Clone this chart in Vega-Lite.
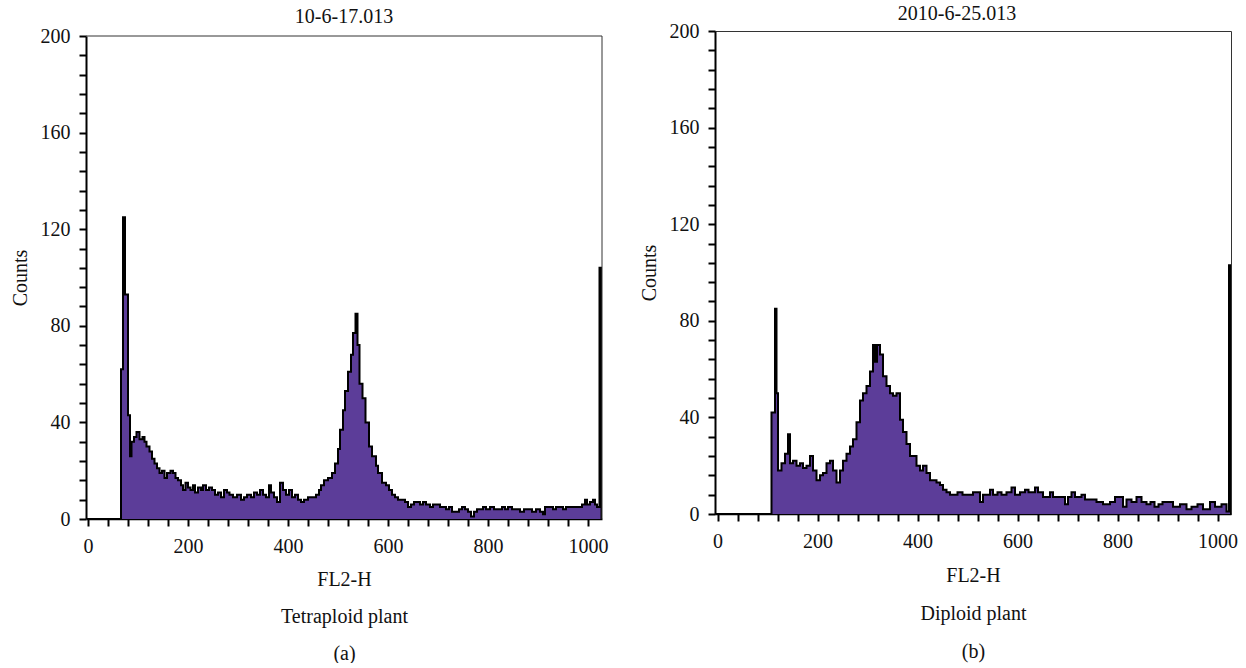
{
  "$schema": "https://vega.github.io/schema/vega-lite/v6.json",
  "background": "white",
  "padding": {"left": 10, "top": 3, "right": 5, "bottom": 0},
  "spacing": 30,
  "config": {
    "font": "Liberation Serif",
    "view": {"stroke": "#333333", "strokeWidth": 1},
    "title": {"font": "Liberation Serif", "fontSize": 20, "fontWeight": "normal", "color": "#111111", "anchor": "middle"},
    "axis": {
      "labelFont": "Liberation Serif", "titleFont": "Liberation Serif",
      "labelFontSize": 20, "titleFontSize": 20, "titleFontWeight": "normal",
      "labelColor": "#111111", "titleColor": "#111111",
      "tickColor": "black", "tickWidth": 2, "tickSize": 7,
      "domainColor": "black", "grid": false, "labelOverlap": false, "labelFlush": false
    }
  },
  "datasets": {
    "tetra": [
      {"fl2h": -4, "counts": 0}, {"fl2h": 66, "counts": 62}, {"fl2h": 70, "counts": 125}, {"fl2h": 74, "counts": 93}, {"fl2h": 80, "counts": 43}, {"fl2h": 84, "counts": 26}, {"fl2h": 87, "counts": 32}, {"fl2h": 92, "counts": 34}, {"fl2h": 97, "counts": 36}, {"fl2h": 103, "counts": 33}, {"fl2h": 109, "counts": 34}, {"fl2h": 113, "counts": 32}, {"fl2h": 117, "counts": 30}, {"fl2h": 123, "counts": 28}, {"fl2h": 128, "counts": 25}, {"fl2h": 133, "counts": 23}, {"fl2h": 138, "counts": 21}, {"fl2h": 143, "counts": 19}, {"fl2h": 148, "counts": 20}, {"fl2h": 153, "counts": 17}, {"fl2h": 158, "counts": 19}, {"fl2h": 165, "counts": 20}, {"fl2h": 170, "counts": 19}, {"fl2h": 175, "counts": 17}, {"fl2h": 180, "counts": 16}, {"fl2h": 186, "counts": 14}, {"fl2h": 190, "counts": 12}, {"fl2h": 195, "counts": 15}, {"fl2h": 200, "counts": 13}, {"fl2h": 205, "counts": 12}, {"fl2h": 210, "counts": 14}, {"fl2h": 214, "counts": 11}, {"fl2h": 220, "counts": 13}, {"fl2h": 226, "counts": 12}, {"fl2h": 230, "counts": 14}, {"fl2h": 236, "counts": 12}, {"fl2h": 242, "counts": 13}, {"fl2h": 248, "counts": 12}, {"fl2h": 254, "counts": 10}, {"fl2h": 260, "counts": 11}, {"fl2h": 266, "counts": 9}, {"fl2h": 272, "counts": 12}, {"fl2h": 278, "counts": 11}, {"fl2h": 283, "counts": 10}, {"fl2h": 290, "counts": 9}, {"fl2h": 298, "counts": 10}, {"fl2h": 306, "counts": 8}, {"fl2h": 312, "counts": 9}, {"fl2h": 318, "counts": 10}, {"fl2h": 326, "counts": 9}, {"fl2h": 332, "counts": 11}, {"fl2h": 338, "counts": 10}, {"fl2h": 344, "counts": 12}, {"fl2h": 350, "counts": 10}, {"fl2h": 356, "counts": 9}, {"fl2h": 362, "counts": 14}, {"fl2h": 366, "counts": 11}, {"fl2h": 372, "counts": 9}, {"fl2h": 378, "counts": 7}, {"fl2h": 384, "counts": 15}, {"fl2h": 390, "counts": 12}, {"fl2h": 396, "counts": 10}, {"fl2h": 402, "counts": 12}, {"fl2h": 408, "counts": 9}, {"fl2h": 414, "counts": 10}, {"fl2h": 420, "counts": 8}, {"fl2h": 426, "counts": 7}, {"fl2h": 432, "counts": 8}, {"fl2h": 440, "counts": 9}, {"fl2h": 448, "counts": 9}, {"fl2h": 456, "counts": 10}, {"fl2h": 462, "counts": 12}, {"fl2h": 466, "counts": 14}, {"fl2h": 472, "counts": 16}, {"fl2h": 480, "counts": 17}, {"fl2h": 488, "counts": 19}, {"fl2h": 494, "counts": 23}, {"fl2h": 500, "counts": 29}, {"fl2h": 504, "counts": 37}, {"fl2h": 510, "counts": 45}, {"fl2h": 514, "counts": 53}, {"fl2h": 520, "counts": 61}, {"fl2h": 526, "counts": 68}, {"fl2h": 530, "counts": 77}, {"fl2h": 535, "counts": 85}, {"fl2h": 539, "counts": 72}, {"fl2h": 543, "counts": 56}, {"fl2h": 549, "counts": 50}, {"fl2h": 555, "counts": 40}, {"fl2h": 562, "counts": 30}, {"fl2h": 568, "counts": 26}, {"fl2h": 576, "counts": 22}, {"fl2h": 580, "counts": 19}, {"fl2h": 588, "counts": 15}, {"fl2h": 596, "counts": 14}, {"fl2h": 602, "counts": 12}, {"fl2h": 608, "counts": 10}, {"fl2h": 614, "counts": 9}, {"fl2h": 620, "counts": 8}, {"fl2h": 628, "counts": 8}, {"fl2h": 634, "counts": 7}, {"fl2h": 640, "counts": 5}, {"fl2h": 646, "counts": 6}, {"fl2h": 652, "counts": 7}, {"fl2h": 658, "counts": 7}, {"fl2h": 664, "counts": 6}, {"fl2h": 670, "counts": 7}, {"fl2h": 676, "counts": 6}, {"fl2h": 684, "counts": 5}, {"fl2h": 690, "counts": 6}, {"fl2h": 698, "counts": 6}, {"fl2h": 704, "counts": 5}, {"fl2h": 710, "counts": 5}, {"fl2h": 716, "counts": 4}, {"fl2h": 722, "counts": 5}, {"fl2h": 728, "counts": 3}, {"fl2h": 734, "counts": 3}, {"fl2h": 742, "counts": 4}, {"fl2h": 748, "counts": 5}, {"fl2h": 754, "counts": 4}, {"fl2h": 760, "counts": 3}, {"fl2h": 766, "counts": 1}, {"fl2h": 772, "counts": 3}, {"fl2h": 778, "counts": 4}, {"fl2h": 784, "counts": 4}, {"fl2h": 790, "counts": 5}, {"fl2h": 796, "counts": 4}, {"fl2h": 804, "counts": 5}, {"fl2h": 812, "counts": 4}, {"fl2h": 820, "counts": 4}, {"fl2h": 828, "counts": 5}, {"fl2h": 834, "counts": 4}, {"fl2h": 840, "counts": 5}, {"fl2h": 848, "counts": 4}, {"fl2h": 856, "counts": 4}, {"fl2h": 864, "counts": 3}, {"fl2h": 872, "counts": 4}, {"fl2h": 880, "counts": 4}, {"fl2h": 888, "counts": 3}, {"fl2h": 896, "counts": 4}, {"fl2h": 904, "counts": 3}, {"fl2h": 910, "counts": 2}, {"fl2h": 914, "counts": 5}, {"fl2h": 922, "counts": 5}, {"fl2h": 930, "counts": 4}, {"fl2h": 936, "counts": 5}, {"fl2h": 944, "counts": 5}, {"fl2h": 950, "counts": 4}, {"fl2h": 956, "counts": 5}, {"fl2h": 962, "counts": 5}, {"fl2h": 970, "counts": 5}, {"fl2h": 978, "counts": 5}, {"fl2h": 988, "counts": 6}, {"fl2h": 994, "counts": 8}, {"fl2h": 998, "counts": 6}, {"fl2h": 1004, "counts": 7}, {"fl2h": 1010, "counts": 8}, {"fl2h": 1014, "counts": 6}, {"fl2h": 1018, "counts": 5}, {"fl2h": 1023, "counts": 104}, {"fl2h": 1027, "counts": 0}
    ],
    "diplo": [
      {"fl2h": -5, "counts": 0}, {"fl2h": 108, "counts": 42}, {"fl2h": 115, "counts": 85}, {"fl2h": 118, "counts": 50}, {"fl2h": 121, "counts": 18}, {"fl2h": 128, "counts": 21}, {"fl2h": 135, "counts": 25}, {"fl2h": 141, "counts": 33}, {"fl2h": 145, "counts": 21}, {"fl2h": 151, "counts": 22}, {"fl2h": 158, "counts": 20}, {"fl2h": 165, "counts": 21}, {"fl2h": 171, "counts": 19}, {"fl2h": 178, "counts": 20}, {"fl2h": 185, "counts": 24}, {"fl2h": 191, "counts": 18}, {"fl2h": 198, "counts": 14}, {"fl2h": 205, "counts": 16}, {"fl2h": 211, "counts": 17}, {"fl2h": 218, "counts": 21}, {"fl2h": 225, "counts": 22}, {"fl2h": 231, "counts": 18}, {"fl2h": 238, "counts": 13}, {"fl2h": 245, "counts": 18}, {"fl2h": 251, "counts": 22}, {"fl2h": 258, "counts": 25}, {"fl2h": 265, "counts": 28}, {"fl2h": 271, "counts": 31}, {"fl2h": 278, "counts": 38}, {"fl2h": 285, "counts": 47}, {"fl2h": 291, "counts": 50}, {"fl2h": 298, "counts": 53}, {"fl2h": 305, "counts": 59}, {"fl2h": 311, "counts": 70}, {"fl2h": 315, "counts": 63}, {"fl2h": 319, "counts": 70}, {"fl2h": 325, "counts": 66}, {"fl2h": 331, "counts": 57}, {"fl2h": 338, "counts": 53}, {"fl2h": 345, "counts": 50}, {"fl2h": 351, "counts": 49}, {"fl2h": 358, "counts": 50}, {"fl2h": 365, "counts": 39}, {"fl2h": 371, "counts": 34}, {"fl2h": 378, "counts": 29}, {"fl2h": 385, "counts": 24}, {"fl2h": 391, "counts": 24}, {"fl2h": 398, "counts": 20}, {"fl2h": 405, "counts": 18}, {"fl2h": 411, "counts": 20}, {"fl2h": 418, "counts": 17}, {"fl2h": 425, "counts": 14}, {"fl2h": 431, "counts": 14}, {"fl2h": 438, "counts": 13}, {"fl2h": 445, "counts": 12}, {"fl2h": 451, "counts": 10}, {"fl2h": 458, "counts": 9}, {"fl2h": 465, "counts": 8}, {"fl2h": 480, "counts": 9}, {"fl2h": 490, "counts": 8}, {"fl2h": 511, "counts": 9}, {"fl2h": 525, "counts": 5}, {"fl2h": 531, "counts": 8}, {"fl2h": 545, "counts": 10}, {"fl2h": 551, "counts": 8}, {"fl2h": 560, "counts": 9}, {"fl2h": 568, "counts": 8}, {"fl2h": 578, "counts": 9}, {"fl2h": 588, "counts": 11}, {"fl2h": 595, "counts": 8}, {"fl2h": 605, "counts": 9}, {"fl2h": 615, "counts": 10}, {"fl2h": 622, "counts": 9}, {"fl2h": 635, "counts": 11}, {"fl2h": 641, "counts": 9}, {"fl2h": 651, "counts": 7}, {"fl2h": 665, "counts": 9}, {"fl2h": 671, "counts": 7}, {"fl2h": 685, "counts": 7}, {"fl2h": 695, "counts": 4}, {"fl2h": 701, "counts": 7}, {"fl2h": 708, "counts": 9}, {"fl2h": 715, "counts": 7}, {"fl2h": 728, "counts": 8}, {"fl2h": 735, "counts": 6}, {"fl2h": 758, "counts": 5}, {"fl2h": 771, "counts": 4}, {"fl2h": 785, "counts": 5}, {"fl2h": 795, "counts": 7}, {"fl2h": 811, "counts": 3}, {"fl2h": 818, "counts": 6}, {"fl2h": 828, "counts": 5}, {"fl2h": 838, "counts": 7}, {"fl2h": 848, "counts": 5}, {"fl2h": 858, "counts": 4}, {"fl2h": 866, "counts": 5}, {"fl2h": 874, "counts": 3}, {"fl2h": 882, "counts": 4}, {"fl2h": 890, "counts": 5}, {"fl2h": 898, "counts": 5}, {"fl2h": 911, "counts": 3}, {"fl2h": 925, "counts": 4}, {"fl2h": 938, "counts": 2}, {"fl2h": 948, "counts": 3}, {"fl2h": 960, "counts": 4}, {"fl2h": 971, "counts": 2}, {"fl2h": 985, "counts": 5}, {"fl2h": 995, "counts": 3}, {"fl2h": 1008, "counts": 4}, {"fl2h": 1018, "counts": 1}, {"fl2h": 1023, "counts": 103}, {"fl2h": 1027, "counts": 0}
    ]
  },
  "hconcat": [
    {
      "width": 516,
      "height": 488,
      "view": {"stroke": null},
      "title": {"text": "10-6-17.013", "offset": -1},
      "resolve": {"axis": {"x": "independent", "y": "independent"}},
      "layer": [
        {
          "data": {"name": "tetra"},
          "mark": {"type": "area", "interpolate": "step-after", "color": "#5c3d99", "clip": true},
          "encoding": {
            "x": {
              "field": "fl2h", "type": "quantitative",
              "scale": {"domain": [-4, 1028], "nice": false, "zero": false},
              "axis": {
                "values": [0, 40, 80, 120, 160, 200, 240, 280, 320, 360, 400, 440, 480, 520, 560, 600, 640, 680, 720, 760, 800, 840, 880, 920, 960, 1000],
                "labelExpr": "datum.value % 200 === 0 ? datum.label : ''",
                "format": "d",
                "title": ["FL2-H", "Tetraploid plant", "(a)"],
                "titleLineHeight": 37,
                "labelPadding": 10, "titlePadding": 13, "domainWidth": 1.5
              }
            },
            "y": {
              "field": "counts", "type": "quantitative",
              "scale": {"domain": [0, 200], "nice": false, "range": [488, 5]},
              "axis": {
                "values": [0, 8, 16, 24, 32, 40, 48, 56, 64, 72, 80, 88, 96, 104, 112, 120, 128, 136, 144, 152, 160, 168, 176, 184, 192, 200],
                "labelExpr": "datum.value % 40 === 0 ? datum.label : ''",
                "format": "d",
                "title": "Counts",
                "labelPadding": 9, "titlePadding": 10, "domainWidth": 2
              }
            }
          }
        },
        {
          "data": {"name": "tetra"},
          "mark": {"type": "line", "interpolate": "step-after", "color": "black", "strokeWidth": 2, "clip": true},
          "encoding": {
            "x": {"field": "fl2h", "type": "quantitative", "axis": null},
            "y": {"field": "counts", "type": "quantitative", "axis": null}
          }
        },
        {
          "data": {"values": [{"edge": "top"}]},
          "mark": {"type": "rule", "color": "#333333", "strokeWidth": 1},
          "encoding": {"y": {"datum": 200, "axis": null}}
        },
        {
          "data": {"values": [{"edge": "right"}]},
          "mark": {"type": "rule", "color": "#333333", "strokeWidth": 1},
          "encoding": {"x": {"datum": 1028, "axis": null}, "y": {"datum": 0, "axis": null}, "y2": {"datum": 200}}
        }
      ]
    },
    {
      "width": 516,
      "height": 483,
      "title": {"text": "2010-6-25.013", "offset": -3, "dx": -16},
      "data": {"name": "diplo"},
      "encoding": {
        "x": {
          "field": "fl2h", "type": "quantitative",
          "scale": {"domain": [-5, 1027], "nice": false, "zero": false},
          "axis": {
            "values": [0, 40, 80, 120, 160, 200, 240, 280, 320, 360, 400, 440, 480, 520, 560, 600, 640, 680, 720, 760, 800, 840, 880, 920, 960, 1000],
            "labelExpr": "datum.value % 200 === 0 ? datum.label : ''",
            "format": "d",
            "title": ["FL2-H", "Diploid plant", "(b)"],
            "titleLineHeight": 38,
            "labelPadding": 10, "titlePadding": 14, "domainWidth": 1.5
          }
        },
        "y": {
          "field": "counts", "type": "quantitative",
          "scale": {"domain": [0, 200], "nice": false},
          "axis": {
            "values": [0, 8, 16, 24, 32, 40, 48, 56, 64, 72, 80, 88, 96, 104, 112, 120, 128, 136, 144, 152, 160, 168, 176, 184, 192, 200],
            "labelExpr": "datum.value % 40 === 0 ? datum.label : ''",
            "format": "d",
            "title": "Counts",
            "labelPadding": 9, "titlePadding": 10, "domainWidth": 2
          }
        }
      },
      "layer": [
        {"mark": {"type": "area", "interpolate": "step-after", "color": "#5c3d99", "clip": true}},
        {"mark": {"type": "line", "interpolate": "step-after", "color": "black", "strokeWidth": 2, "clip": true}}
      ]
    }
  ]
}
